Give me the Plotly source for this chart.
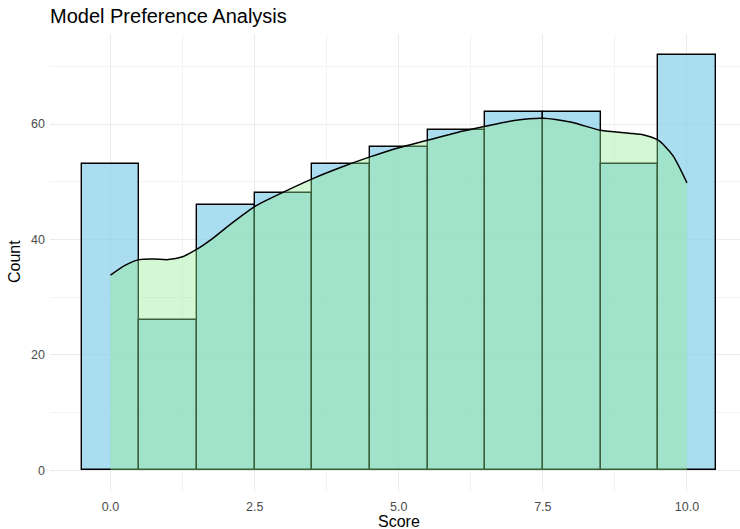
import plotly.graph_objects as go

# Histogram data (bins of width 1 centred on integer scores)
scores = [0, 1, 2, 3, 4, 5, 6, 7, 8, 9, 10]
counts = [53, 26, 46, 48, 53, 56, 59, 62, 62, 53, 72]

# Density curve (scaled to counts)
dens_x = [0, 0.25, 0.5, 0.75, 1.0, 1.25, 1.5, 1.75, 2.0, 2.25, 2.5, 3.0, 3.5, 4.0,
          4.5, 5.0, 5.5, 6.0, 6.5, 7.0, 7.5, 8.0, 8.5, 9.0, 9.25, 9.5, 9.75, 10.0]
dens_y = [33.8, 35.5, 36.5, 36.6, 36.5, 37.0, 38.3, 40.0, 42.0, 43.9, 45.7, 48.2, 50.5, 52.5,
          54.3, 55.9, 57.2, 58.5, 59.6, 60.6, 61.0, 60.3, 58.9, 58.4, 58.1, 57.2, 54.6, 49.8]

font_family = "Liberation Sans, Arial, sans-serif"

W, H = 740, 529
ML, MR, MT, MB = 50, 0, 34, 38

fig = go.Figure()
fig.add_trace(go.Bar(
    x=scores, y=counts, width=1,
    marker=dict(color="rgba(135,206,235,0.7)", line=dict(color="black", width=1.4)),
    showlegend=False, hoverinfo="x+y",
))
fig.add_trace(go.Scatter(
    x=dens_x, y=dens_y, mode="lines", fill="tozeroy",
    fillcolor="rgba(144,238,144,0.4)",
    line=dict(color="black", width=1.5, shape="spline", smoothing=0.7),
    showlegend=False,
))

plot_w = W - ML - MR
plot_h = H - MT - MB

fig.update_layout(
    width=W, height=H,
    margin=dict(l=ML, r=MR, t=MT, b=MB, autoexpand=False),
    paper_bgcolor="white", plot_bgcolor="white",
    bargap=0,
    font=dict(family=font_family),
    title=dict(text="Model Preference Analysis", x=50 / W, xref="container", xanchor="left",
               y=1 - 16 / H, yref="container", yanchor="middle",
               font=dict(size=20, color="black", family=font_family)),
    annotations=[
        dict(text="Score", x=(399 - ML) / plot_w, y=(H - MB - 521) / plot_h,
             xref="paper", yref="paper",
             showarrow=False, xanchor="center", yanchor="middle",
             font=dict(size=16, color="black")),
        dict(text="Count", x=(14 - ML) / plot_w, y=(H - MB - 262) / plot_h,
             xref="paper", yref="paper",
             showarrow=False, textangle=-90, xanchor="center", yanchor="middle",
             font=dict(size=16, color="black")),
    ],
)

fig.update_xaxes(
    automargin=False,
    range=[-1.05, 10.92], tickmode="array", tickvals=[0, 2.5, 5, 7.5, 10],
    ticktext=["0.0", "2.5", "5.0", "7.5", "10.0"],
    showgrid=True, gridcolor="#EBEBEB", gridwidth=1,
    minor=dict(tickmode="array", tickvals=[1.25, 3.75, 6.25, 8.75], showgrid=True,
               gridcolor="#F3F3F3", gridwidth=0.8),
    zeroline=False, showline=False, ticks="",
    ticklabelstandoff=6,
    tickfont=dict(size=12.5, color="#4D4D4D"),
)
fig.update_yaxes(
    automargin=False,
    range=[-3.6, 75.6], tickmode="array", tickvals=[0, 20, 40, 60],
    showgrid=True, gridcolor="#EBEBEB", gridwidth=1,
    minor=dict(tickmode="array", tickvals=[10, 30, 50, 70], showgrid=True,
               gridcolor="#F3F3F3", gridwidth=0.8),
    zeroline=False, showline=False, ticks="",
    ticklabelstandoff=4,
    tickfont=dict(size=12.5, color="#4D4D4D"),
)

fig.write_html("out.html",
               config={"displayModeBar": False},
               post_script="document.body.style.margin='0';document.body.style.overflow='hidden';")
